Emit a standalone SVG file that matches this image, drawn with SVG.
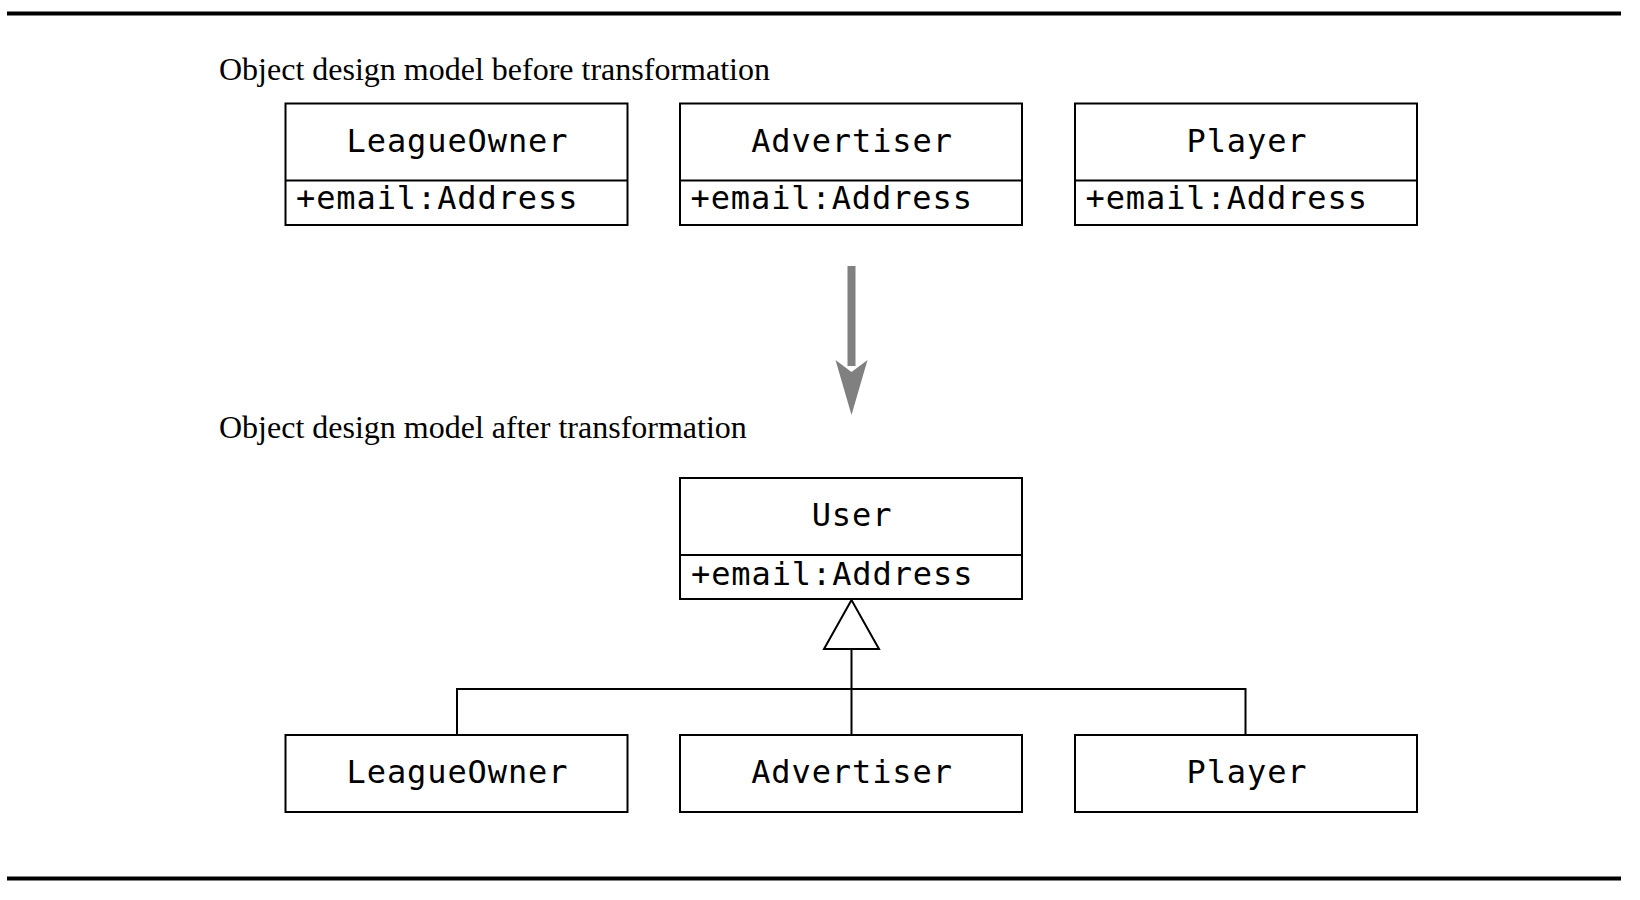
<svg xmlns="http://www.w3.org/2000/svg" width="1640" height="900" viewBox="0 0 1640 900">
<style>
.rule{stroke:#000;stroke-width:4}
.box{fill:#fff;stroke:#000;stroke-width:2}
.div{stroke:#000;stroke-width:2}
.title{font-family:"Liberation Serif","Times New Roman",serif;font-size:32px;fill:#000}
.name{font-family:"DejaVu Sans Mono",monospace;font-size:32px;letter-spacing:0.9px;fill:#000;text-anchor:middle}
.attr{font-family:"DejaVu Sans Mono",monospace;font-size:32px;letter-spacing:0.9px;fill:#000}
.conn{stroke:#000;stroke-width:2;fill:none}
</style>
<rect width="1640" height="900" fill="#fff"/>
<line class="rule" x1="7" y1="13.5" x2="1621" y2="13.5"/>
<line class="rule" x1="7" y1="878.5" x2="1621" y2="878.5"/>
<text class="title" x="219" y="79.5">Object design model before transformation</text>
<text class="title" x="219" y="438">Object design model after transformation</text>

<g id="before-leagueowner">
<rect class="box" x="285.5" y="103.5" width="342" height="121.5"/>
<line class="div" x1="285.5" y1="180.5" x2="627.5" y2="180.5"/>
<text class="name" x="457.5" y="152">LeagueOwner</text>
<text class="attr" x="296" y="208.5">+email:Address</text>
</g>
<g id="before-advertiser">
<rect class="box" x="680" y="103.5" width="342" height="121.5"/>
<line class="div" x1="680" y1="180.5" x2="1022" y2="180.5"/>
<text class="name" x="852" y="152">Advertiser</text>
<text class="attr" x="690.5" y="208.5">+email:Address</text>
</g>
<g id="before-player">
<rect class="box" x="1075" y="103.5" width="342" height="121.5"/>
<line class="div" x1="1075" y1="180.5" x2="1417" y2="180.5"/>
<text class="name" x="1247" y="152">Player</text>
<text class="attr" x="1085.5" y="208.5">+email:Address</text>
</g>

<g id="transform-arrow">
<rect x="847.5" y="266" width="8" height="100" fill="#808080"/>
<polygon points="835.5,360 851.5,372 867.5,360 851.5,415" fill="#808080"/>
</g>

<g id="user">
<rect class="box" x="680" y="478" width="342" height="121"/>
<line class="div" x1="680" y1="555" x2="1022" y2="555"/>
<text class="name" x="852" y="526">User</text>
<text class="attr" x="691" y="584.5">+email:Address</text>
</g>

<g id="connectors">
<polyline class="conn" points="457,735 457,689 1245.5,689 1245.5,735"/>
<line class="conn" x1="851.5" y1="649" x2="851.5" y2="735"/>
<polygon points="851.5,600 824,649 879,649" fill="#fff" stroke="#000" stroke-width="2"/>
</g>

<g id="after-leagueowner">
<rect class="box" x="285.5" y="735" width="342" height="77"/>
<text class="name" x="457.5" y="783">LeagueOwner</text>
</g>
<g id="after-advertiser">
<rect class="box" x="680" y="735" width="342" height="77"/>
<text class="name" x="852" y="783">Advertiser</text>
</g>
<g id="after-player">
<rect class="box" x="1075" y="735" width="342" height="77"/>
<text class="name" x="1247" y="783">Player</text>
</g>
</svg>
